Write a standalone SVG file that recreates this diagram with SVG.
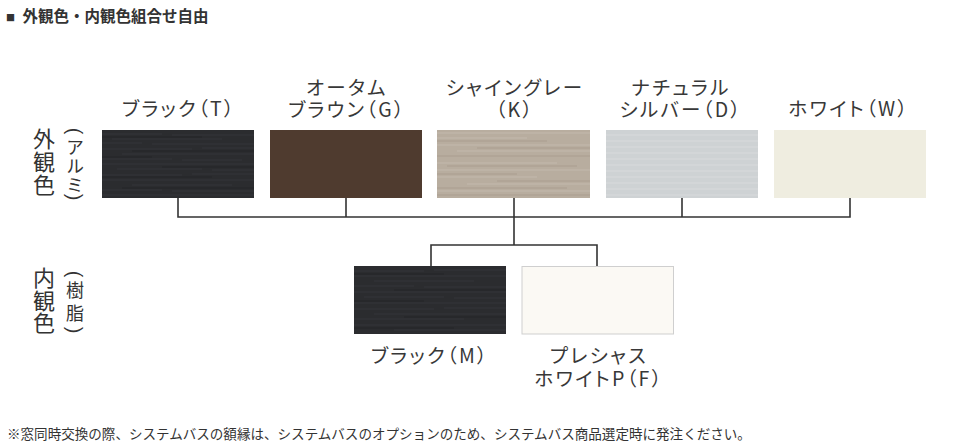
<svg xmlns="http://www.w3.org/2000/svg" width="966" height="448" viewBox="0 0 966 448">
<style>
  .lbl { font-family: "Noto Sans CJK JP", "Noto Sans", sans-serif; font-size: 19.5px; fill: #383838; text-anchor: middle; font-feature-settings: "palt"; letter-spacing: 2.3px; }
  .vt { font-family: "Noto Sans CJK JP", "Noto Sans", sans-serif; font-size: 22px; fill: #333; writing-mode: vertical-rl; letter-spacing: 0.7px; }
  .vs { font-family: "Noto Sans CJK JP", "Noto Sans", sans-serif; font-size: 18px; fill: #333; writing-mode: vertical-rl; }
  .vp { font-family: "Liberation Sans", sans-serif; font-size: 20px; fill: #333; text-anchor: middle; dominant-baseline: central; }
  .title { font-family: "Noto Sans CJK JP", "Noto Sans", sans-serif; font-size: 15.5px; font-weight: bold; fill: #333; }
  .note { font-family: "Noto Sans CJK JP", "Noto Sans", sans-serif; font-size: 13.55px; fill: #333; }
  .conn { fill: none; stroke: #333; stroke-width: 1.6; }
</style>
<defs>
  <pattern id="texT" patternUnits="userSpaceOnUse" x="102" y="130" width="152" height="68">
    <rect width="152" height="68" fill="#2b2c2f"/>
    <g stroke="#3f4145" stroke-width="0.8" opacity="0.5">
      <path d="M0,4 H60 M70,5 H152 M10,9 H120 M0,13 H40 M50,14 H152 M0,19 H90 M100,18 H152 M20,24 H152 M0,29 H70 M80,30 H140 M0,34 H152 M15,39 H100 M110,40 H152 M0,45 H80 M90,44 H152 M0,50 H152 M30,55 H130 M0,60 H60 M70,61 H152 M0,65 H152"/>
    </g>
    <g stroke="#1b1c1e" stroke-width="0.9" opacity="0.6">
      <path d="M0,7 H100 M30,21 H152 M0,27 H50 M60,37 H152 M0,47 H110 M20,58 H152"/>
    </g>
  </pattern>
  <pattern id="texM" patternUnits="userSpaceOnUse" x="354" y="266" width="152" height="68">
    <rect width="152" height="68" fill="#2b2c2f"/>
    <g stroke="#3d3f43" stroke-width="0.8" opacity="0.5">
      <path d="M0,5 H70 M80,4 H152 M0,10 H152 M20,15 H120 M0,20 H60 M70,21 H152 M0,26 H152 M10,31 H90 M100,32 H152 M0,37 H152 M0,43 H80 M90,42 H152 M20,48 H152 M0,53 H110 M0,59 H152 M40,64 H152"/>
    </g>
    <g stroke="#1c1d1f" stroke-width="0.9" opacity="0.6">
      <path d="M0,8 H90 M40,24 H152 M0,35 H70 M50,51 H152 M0,62 H100"/>
    </g>
  </pattern>
  <pattern id="texK" patternUnits="userSpaceOnUse" x="437" y="130" width="153" height="68">
    <rect width="153" height="68" fill="#b8ad9f"/>
    <g stroke="#c6bdb1" stroke-width="1" opacity="0.7">
      <path d="M0,3 H153 M0,8 H90 M0,15 H153 M20,21 H153 M0,33 H120 M0,40 H153 M0,47 H100 M30,54 H153 M0,61 H153"/>
    </g>
    <g stroke="#9a8d7e" stroke-width="0.7" opacity="0.7">
      <path d="M0,11 H110 M40,18 H153 M0,26 H153 M10,36 H140 M0,44 H80 M60,51 H153 M0,58 H130 M0,65 H153"/>
    </g>
  </pattern>
  <pattern id="texD" patternUnits="userSpaceOnUse" x="606" y="130" width="152" height="68">
    <rect width="152" height="68" fill="#ced2d4"/>
    <g stroke="#d9dcde" stroke-width="1" opacity="0.8">
      <path d="M0,5 H152 M0,11 H152 M0,17 H152 M0,23 H152 M0,29 H152 M0,35 H152 M0,41 H152 M0,47 H152 M0,53 H152 M0,59 H152 M0,65 H152"/>
    </g>
  </pattern>
</defs>

<text class="title" x="6" y="22"><tspan font-size="9px" dy="-1">■</tspan><tspan x="22.5" dy="1">外観色・内観色組合せ自由</tspan></text>

<g id="label-outer">
  <text class="vt" x="44" y="128">外観色</text>
  <text class="vp" transform="translate(75,131) rotate(90)">(</text>
  <text class="vs" x="75" y="138" letter-spacing="1">アルミ</text>
  <text class="vp" transform="translate(75,197) rotate(90)">)</text>
</g>

<g id="label-inner">
  <text class="vt" x="44" y="266.5">内観色</text>
  <text class="vp" transform="translate(75,274) rotate(90)">(</text>
  <text class="vs" x="75" y="281" font-size="20px" letter-spacing="5">樹脂</text>
  <text class="vp" transform="translate(75,330) rotate(90)">)</text>
</g>

<g id="connectors">
  <path class="conn" d="M178,198 V217 H850 V198 M346,198 V217 M514,198 V245 M682,198 V217 M431,266 V245 H597 V266"/>
</g>

<g id="node-black-T">
  <rect x="102" y="130" width="152" height="68" fill="url(#texT)"/>
  <text class="lbl" x="179" y="116">ブラック（T）</text>
</g>
<g id="node-brown-G">
  <rect x="270" y="130" width="152" height="68" fill="#4f3b2f"/>
  <text class="lbl"><tspan x="347" y="95">オータム</tspan><tspan x="347" y="117">ブラウン（G）</tspan></text>
</g>
<g id="node-gray-K">
  <rect x="437" y="130" width="153" height="68" fill="url(#texK)"/>
  <text class="lbl"><tspan x="515" y="95">シャイングレー</tspan><tspan x="515" y="117">（K）</tspan></text>
</g>
<g id="node-silver-D">
  <rect x="606" y="130" width="152" height="68" fill="url(#texD)"/>
  <text class="lbl"><tspan x="681" y="95">ナチュラル</tspan><tspan x="681" y="117">シルバー（D）</tspan></text>
</g>
<g id="node-white-W">
  <rect x="774" y="130" width="152" height="68" fill="#efede0"/>
  <text class="lbl" x="849" y="116">ホワイト（W）</text>
</g>
<g id="node-black-M">
  <rect x="354" y="266" width="152" height="68" fill="url(#texM)"/>
  <text class="lbl" x="430" y="363">ブラック（M）</text>
</g>
<g id="node-white-PF">
  <rect x="522" y="266.5" width="151.5" height="67.5" fill="#fbf9f4" stroke="#cfcfcf" stroke-width="1"/>
  <text class="lbl"><tspan x="599" y="363">プレシャス</tspan><tspan x="599" y="386">ホワイトP（F）</tspan></text>
</g>

<text class="note" x="7" y="439">※窓同時交換の際、システムバスの額縁は、システムバスのオプションのため、システムバス商品選定時に発注ください。</text>
</svg>
